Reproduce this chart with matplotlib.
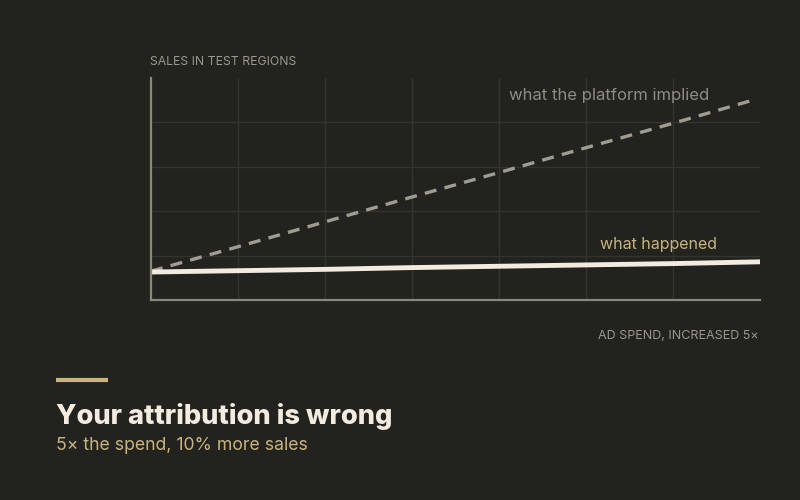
import matplotlib.pyplot as plt
import numpy as np

# spend steps (grid units) and sales levels
spend_actual = [0, 1, 2, 3, 4, 5, 6, 7]
sales_actual = [0.63, 0.66, 0.69, 0.73, 0.76, 0.79, 0.82, 0.86]
spend_implied = [0, 1, 2, 3, 4, 5, 6, 6.88]
sales_implied = [0.65, 1.2, 1.76, 2.32, 2.87, 3.43, 3.98, 4.48]

bg = '#22221e'
cream = '#f3ebdf'
gold = '#c9b47f'
grey = '#a09c90'
muted = '#8f8c83'

plt.rcParams['font.family'] = ['Inter', 'DejaVu Sans']

fig = plt.figure(figsize=(8, 5), dpi=100, facecolor=bg)
ax = fig.add_axes([0.18875, 0.4, 0.76125, 0.444])
ax.set_facecolor(bg)

ax.plot(spend_implied, sales_implied, color=grey, lw=2.4, dashes=(3.6, 2.5),
        solid_capstyle='butt')
ax.plot(spend_actual, sales_actual, color=cream, lw=3.5, solid_capstyle='butt')

ax.set_xlim(0, 7)
ax.set_ylim(0, 5)
# only interior grid lines, none on the top or right edge
ax.set_xticks(np.arange(1, 7, 1))
ax.set_yticks(np.arange(1, 5, 1))
ax.tick_params(length=0, labelbottom=False, labelleft=False)
ax.grid(True, color='#34342f', lw=1)
ax.set_axisbelow(True)
for s in ['top', 'right']:
    ax.spines[s].set_visible(False)
for s in ['left', 'bottom']:
    ax.spines[s].set_color('#8a877d')
    ax.spines[s].set_linewidth(1.6)

ax.text(4.12, 4.6, 'what the platform implied', color=muted, fontsize=12,
        va='center', ha='left')
ax.text(5.16, 1.24, 'what happened', color=gold, fontsize=11.5,
        va='center', ha='left')

fig.text(150/800, 1 - 62/500, 'SALES IN TEST REGIONS', color='#9a978c',
         fontsize=8.8, va='center', ha='left')
fig.text(759/800, 1 - 336/500, 'AD SPEND, INCREASED 5×', color='#9a978c',
         fontsize=9, va='center', ha='right')

fig.add_artist(plt.Line2D([56/800, 108/800], [1 - 380/500, 1 - 380/500],
                          color=gold, lw=3, solid_capstyle='butt'))
fig.text(56/800, 1 - 416/500, 'Your attribution is wrong', color=cream,
         fontsize=19.6, fontweight='heavy', va='center', ha='left')
fig.text(56/800, 1 - 445/500, '5× the spend, 10% more sales', color=gold,
         fontsize=12.7, va='center', ha='left')

fig.savefig('out.png', facecolor=bg)
